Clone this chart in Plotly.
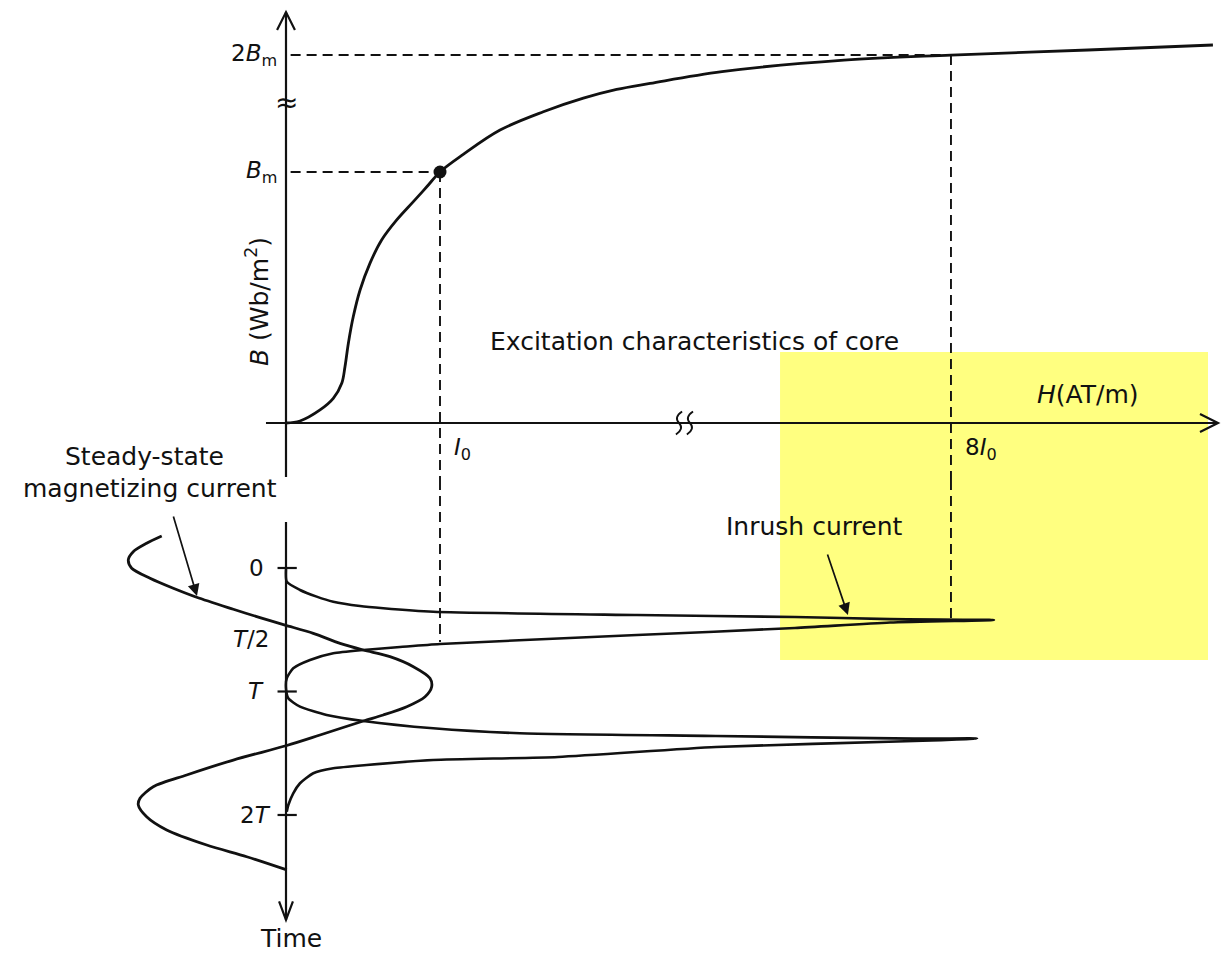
import plotly.graph_objects as go

# ---------------- data (display units: H/current in I0 units, B in Bm units, time in T units) ----
# axis positions (axes are broken, so 2Bm and 8I0 sit at compressed display positions)
H_TICK_POS = [1.0, 4.318]
H_TICK_TEXT = ["<i>I</i><sub>0</sub>", "8<i>I</i><sub>0</sub>"]
B_TICK_POS = [1.0, 1.466]
B_TICK_TEXT = ["<i>B</i><sub>m</sub>", "2<i>B</i><sub>m</sub>"]
T_TICK_POS = [0.0, 0.5, 1.0, 2.0]
T_TICK_TEXT = ["0", "<i>T</i>/2", "<i>T</i>", "2<i>T</i>"]

# excitation (B-H) characteristic of the core
H_CURVE = [0.0, 0.091, 0.221, 0.307, 0.362, 0.383, 0.405, 0.437, 0.481, 0.545, 0.621, 0.719,
           0.827, 0.914, 1.0, 1.151, 1.390, 1.671, 1.931, 2.147, 2.364, 2.831, 3.623, 4.318,
           5.208, 6.019]
B_CURVE = [0.0, 0.008, 0.052, 0.098, 0.158, 0.224, 0.318, 0.424, 0.530, 0.636, 0.729, 0.809,
           0.882, 0.941, 1.0, 1.070, 1.167, 1.240, 1.294, 1.329, 1.353, 1.400, 1.446, 1.466,
           1.486, 1.506]

# steady-state magnetizing current (current vs time)
SS_I = [-0.807, -0.905, -0.992, -1.024, -1.002, -0.883, -0.732, -0.580, -0.342, -0.169, -0.006,
        0.177, 0.351, 0.502, 0.675, 0.827, 0.935, 0.946, 0.903, 0.784, 0.632, 0.502, 0.221, 0.005,
        -0.342, -0.645, -0.862, -0.948, -0.959, -0.905, -0.775, -0.515, -0.255, 0.005]
SS_T = [-0.259, -0.200, -0.132, -0.065, 0.002, 0.083, 0.164, 0.237, 0.334, 0.402, 0.462,
        0.529, 0.610, 0.664, 0.718, 0.799, 0.893, 0.961, 1.042, 1.123, 1.190, 1.239, 1.352, 1.437,
        1.555, 1.676, 1.771, 1.865, 1.919, 2.014, 2.121, 2.243, 2.338, 2.445]

# inrush current (current vs time)
IN_I = [0.0, 0.005, 0.091, 0.199, 0.307, 0.481, 0.632, 0.956, 2.279, 3.305, 3.922, 4.597,
        3.922, 3.305, 2.279, 1.0, 0.740, 0.502, 0.307, 0.156, 0.047, 0.005, 0.0, 0.015, 0.091,
        0.264, 0.502, 0.956, 1.519, 2.792, 4.078, 4.487,
        4.078, 2.792, 1.766, 0.956, 0.524, 0.307, 0.177, 0.091, 0.047, 0.015, 0.005]
IN_T = [0.01, 0.111, 0.178, 0.232, 0.273, 0.308, 0.326, 0.354, 0.381, 0.397, 0.414, 0.421,
        0.441, 0.486, 0.543, 0.615, 0.640, 0.664, 0.691, 0.745, 0.812, 0.893, 0.974, 1.055, 1.123,
        1.190, 1.239, 1.298, 1.338, 1.360, 1.382, 1.380,
        1.401, 1.449, 1.530, 1.555, 1.595, 1.622, 1.662, 1.743, 1.824, 1.919, 1.973]

# ---------------- figure geometry ----------------
# the page body has an 8px margin, so the figure is 8px smaller than the window
W, H = 1221, 950
X_RANGE = [-1.8052, 6.1234]
SPLIT = 0.50316                      # paper y separating B-H plot (top) and time plot (bottom)
B_RANGE = [-0.2271, 1.6534]
T_RANGE = [3.158, -0.7126]           # time runs downward


def t_to_paper(t):
    return SPLIT * (T_RANGE[0] - t) / (T_RANGE[0] - T_RANGE[1])


def x_to_paper(x):
    return (x - X_RANGE[0]) / (X_RANGE[1] - X_RANGE[0])


FONT = "DejaVu Sans, Verdana, sans-serif"
BLACK = "#111111"

fig = go.Figure()

# highlight box (drawn first, below everything)
fig.add_shape(type="rect", xref="paper", yref="paper", x0=0.6323, x1=0.9828, y0=0.3137, y1=0.6379,
              fillcolor="rgb(255,255,128)", line=dict(width=0), layer="below")

# ---- B-H curve
fig.add_trace(go.Scatter(x=H_CURVE, y=B_CURVE, mode="lines", xaxis="x", yaxis="y",
                         line=dict(color=BLACK, width=2.8, shape="spline", smoothing=1.0),
                         hoverinfo="skip", showlegend=False))
fig.add_trace(go.Scatter(x=[H_TICK_POS[0]], y=[B_TICK_POS[0]], mode="markers", xaxis="x", yaxis="y",
                         marker=dict(color=BLACK, size=13), hoverinfo="skip", showlegend=False))

# ---- currents vs time
fig.add_trace(go.Scatter(x=SS_I, y=SS_T, mode="lines", xaxis="x", yaxis="y2",
                         line=dict(color=BLACK, width=2.8, shape="spline", smoothing=0.8),
                         hoverinfo="skip", showlegend=False))
fig.add_trace(go.Scatter(x=IN_I, y=IN_T, mode="lines", xaxis="x", yaxis="y2",
                         line=dict(color=BLACK, width=2.6, shape="spline", smoothing=0.6),
                         hoverinfo="skip", showlegend=False))

DASH = dict(color=BLACK, width=1.9, dash="10px,6px")
# horizontal dashed guides at Bm and 2Bm
fig.add_shape(type="line", xref="x", yref="y", x0=0.03, x1=H_TICK_POS[0], y0=B_TICK_POS[0], y1=B_TICK_POS[0], line=DASH)
fig.add_shape(type="line", xref="x", yref="y", x0=0.03, x1=H_TICK_POS[1], y0=B_TICK_POS[1], y1=B_TICK_POS[1], line=DASH)
# vertical dashed guides at I0 and 8I0 (top part and continuation into time plot)
fig.add_shape(type="line", xref="x", yref="y", x0=H_TICK_POS[0], x1=H_TICK_POS[0], y0=B_TICK_POS[0], y1=B_RANGE[0], line=DASH)
fig.add_shape(type="line", xref="x", yref="y", x0=H_TICK_POS[1], x1=H_TICK_POS[1], y0=B_TICK_POS[1], y1=B_RANGE[0], line=DASH)
fig.add_shape(type="line", xref="x", yref="y2", x0=H_TICK_POS[0], x1=H_TICK_POS[0], y0=T_RANGE[1], y1=0.60, line=DASH)
fig.add_shape(type="line", xref="x", yref="y2", x0=H_TICK_POS[1], x1=H_TICK_POS[1], y0=T_RANGE[1], y1=0.405, line=DASH)

AX = dict(color=BLACK, width=2.2)
# B axis (vertical) with open arrowhead
fig.add_shape(type="line", xref="x", yref="y", x0=0, x1=0, y0=-0.215, y1=1.637, line=AX)
fig.add_shape(type="path", xref="x", yref="y", path="M -0.058,1.566 L 0,1.637 L 0.058,1.566", line=AX)
# H axis (horizontal) with open arrowhead
fig.add_shape(type="line", xref="x", yref="y", x0=-0.13, x1=6.052, y0=0, y1=0, line=AX)
fig.add_shape(type="path", xref="x", yref="y", path="M 5.935,0.036 L 6.052,0 L 5.935,-0.036", line=AX)
# H axis break: two small S-shaped strokes
for xb in (2.552, 2.623):
    fig.add_shape(type="path", xref="x", yref="y",
                  path=f"M {xb + 0.02},0.046 Q {xb - 0.035},0.023 {xb},0 Q {xb + 0.035},-0.023 {xb - 0.02},-0.046",
                  line=dict(color=BLACK, width=1.9))
# time axis (downwards) with open arrowhead
fig.add_shape(type="line", xref="x", yref="y2", x0=0, x1=0, y0=-0.372, y1=2.85, line=AX)
fig.add_shape(type="path", xref="x", yref="y2", path="M -0.045,2.70 L 0,2.85 L 0.045,2.70", line=AX)
# time ticks
for t in T_TICK_POS:
    if t != 0.5:
        fig.add_shape(type="line", xref="x", yref="y2", x0=-0.055, x1=0.07, y0=t, y1=t, line=AX)

ann = []
TXT = dict(family=FONT, size=25, color=BLACK)
TICKF = dict(family=FONT, size=23, color=BLACK)
# B ticks
for pos, txt in zip(B_TICK_POS, B_TICK_TEXT):
    ann.append(dict(x=-0.045, y=pos, xref="x", yref="y", text=txt, showarrow=False,
                    xanchor="right", yanchor="middle", font=TICKF))
# H ticks
for pos, txt in zip(H_TICK_POS, H_TICK_TEXT):
    ann.append(dict(x=pos + 0.08, y=-0.035, xref="x", yref="y", text=txt, showarrow=False,
                    xanchor="left", yanchor="top", font=TICKF))
# time ticks
T_LABEL_X = {0.0: -0.13, 0.5: -0.10, 1.0: -0.13, 2.0: -0.085}
for pos, txt in zip(T_TICK_POS, T_TICK_TEXT):
    shift = -9 if pos == 0.5 else 0
    ann.append(dict(x=T_LABEL_X[pos], y=pos, xref="x", yref="y2", text=txt, showarrow=False, yshift=shift,
                    xanchor="right", yanchor="middle", font=TICKF))

# B axis break
ann.append(dict(x=0, y=1.275, xref="x", yref="y", text="≈", showarrow=False,
                font=dict(family="DejaVu Sans", size=28, color=BLACK)))

# titles / labels
ann.append(dict(x=-0.188, y=0.482, xref="x", yref="y", text="<i>B</i> (Wb/m<sup>2</sup>)", showarrow=False,
                textangle=-90, xanchor="center", yanchor="middle", font=TXT))
ann.append(dict(x=2.65, y=0.323, xref="x", yref="y", text="Excitation characteristics of core",
                showarrow=False, xanchor="center", yanchor="middle", font=TXT))
ann.append(dict(x=5.21, y=0.112, xref="x", yref="y", text="<i>H</i>(AT/m)", showarrow=False,
                xanchor="center", yanchor="middle", font=TXT))
ann.append(dict(x=0.03, y=3.0, xref="x", yref="y2", text="Time", showarrow=False,
                xanchor="center", yanchor="middle", font=TXT))
ann.append(dict(x=x_to_paper(-0.916), y=t_to_paper(-0.900), xref="paper", yref="paper", text="Steady-state",
                showarrow=False, xanchor="center", yanchor="middle", font=TXT))
ann.append(dict(x=x_to_paper(-0.883), y=t_to_paper(-0.640), xref="paper", yref="paper",
                text="magnetizing current", showarrow=False, xanchor="center", yanchor="middle", font=TXT))
ann.append(dict(x=3.435, y=-0.332, xref="x", yref="y2", text="Inrush current", showarrow=False,
                xanchor="center", yanchor="middle", font=TXT))
# pointer arrows
ann.append(dict(x=-0.578, y=0.227, ax=-0.734, ay=-0.429, xref="x", yref="y2", axref="x", ayref="y2",
                text="", showarrow=True, arrowhead=2, arrowsize=1.4, arrowwidth=1.7, arrowcolor=BLACK))
ann.append(dict(x=3.649, y=0.381, ax=3.513, ay=-0.121, xref="x", yref="y2", axref="x", ayref="y2",
                text="", showarrow=True, arrowhead=2, arrowsize=1.4, arrowwidth=1.7, arrowcolor=BLACK))

fig.update_layout(
    width=W, height=H,
    margin=dict(l=0, r=0, t=0, b=0),
    paper_bgcolor="white", plot_bgcolor="rgba(0,0,0,0)",
    showlegend=False,
    xaxis=dict(range=X_RANGE, domain=[0, 1], visible=False, anchor="y"),
    yaxis=dict(range=B_RANGE, domain=[SPLIT, 1], visible=False, anchor="x"),
    yaxis2=dict(range=T_RANGE, domain=[0, SPLIT], visible=False, anchor="x"),
    annotations=ann,
)

fig.write_html("out.html")
